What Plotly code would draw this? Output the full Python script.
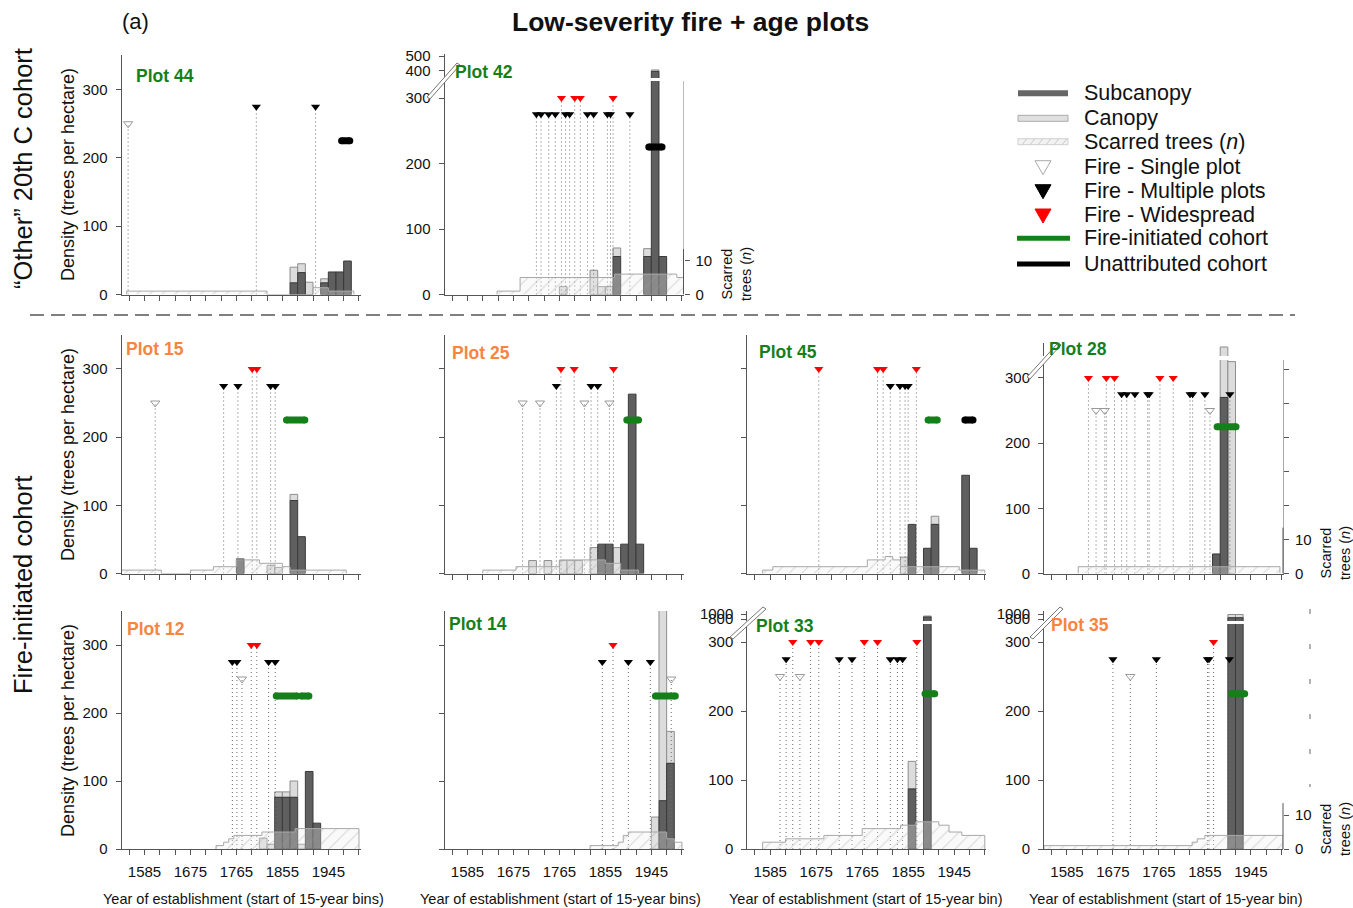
import plotly.graph_objects as go

# ---------------- data ----------------
X_TICKS = [1555, 1585, 1615, 1645, 1675, 1705, 1735, 1765, 1795, 1825, 1855, 1885, 1915, 1945, 1975, 2005]
X_TICK_LABELS = [1585, 1675, 1765, 1855, 1945]
Y_TICKS = [0, 100, 200, 300]
BIN_WIDTH = 15
H_SINGLE, H_MULTI, H_WIDE, H_COHORT = 250, 275, 300, 225

# Plot 44
p44_bins = [1870, 1885, 1900, 1930, 1945, 1960, 1975]
p44_sub = [17, 32, 0, 17, 33, 33, 49]
p44_can = [23, 13, 18, 6, 0, 0, 0]
p44_scar_edges = [1550, 1825, 1915, 1945, 1995]
p44_scar_n = [1, 0, 2, 1]
p44_single = [1553]
p44_multi = [1804, 1920]
p44_wide = []
p44_coh_fire = []
p44_coh_unattr = [(1971, 1987)]

# Plot 42
p42_bins = [1765, 1825, 1840, 1855, 1870, 1930, 1945, 1960]
p42_sub = [0, 0, 0, 0, 58, 58, 395, 58]
p42_can = [12, 37, 12, 12, 13, 12, 10, 0]
p42_scar_edges = [1643, 1688, 1873, 1995, 2008]
p42_scar_n = [1, 5, 6, 5]
p42_single = []
p42_multi = [1720, 1729, 1744, 1757, 1777, 1785, 1820, 1832, 1859, 1865, 1903]
p42_wide = [1769, 1795, 1806, 1870]
p42_coh_fire = []
p42_coh_unattr = [(1940, 1966)]

# Plot 15
p15_bins = [1765, 1825, 1840, 1870, 1885]
p15_sub = [20, 0, 0, 107, 54]
p15_can = [2, 12, 9, 9, 0]
p15_scar_edges = [1540, 1618, 1675, 1720, 1765, 1810, 1855, 1870, 1980]
p15_scar_n = [1, 0, 1, 2, 4, 3, 2, 1]
p15_single = [1606]
p15_multi = [1740, 1768, 1832, 1841]
p15_wide = [1796, 1805]
p15_coh_fire = [(1863, 1899)]
p15_coh_unattr = []

# Plot 25
p25_bins = [1705, 1735, 1765, 1780, 1795, 1825, 1840, 1855, 1870, 1885, 1900, 1915]
p25_sub = [0, 0, 0, 0, 0, 0, 43, 43, 0, 43, 263, 43]
p25_can = [19, 19, 19, 19, 19, 38, 0, 0, 38, 0, 0, 0]
p25_scar_edges = [1615, 1680, 1765, 1855, 1885, 1920]
p25_scar_n = [1, 2, 4, 3, 1]
p25_single = [1693, 1727, 1814, 1863]
p25_multi = [1759, 1827, 1840]
p25_wide = [1768, 1794, 1871]
p25_coh_fire = [(1897, 1920)]
p25_coh_unattr = []

# Plot 45
p45_bins = [1840, 1855, 1885, 1900, 1960, 1975]
p45_sub = [0, 72, 37, 72, 144, 37]
p45_can = [24, 0, 0, 12, 0, 0]
p45_scar_edges = [1570, 1590, 1775, 1810, 1825, 1840, 1955, 2005]
p45_scar_n = [1, 2, 4, 5, 4, 2, 1]
p45_single = []
p45_multi = [1820, 1839, 1849, 1855]
p45_wide = [1680, 1795, 1806, 1871]
p45_coh_fire = [(1894, 1912)]
p45_coh_unattr = [(1966, 1982)]

# Plot 28
p28_bins = [1870, 1885, 1900]
p28_sub = [30, 270, 0]
p28_can = [0, 105, 325]
p28_scar_edges = [1607, 2002]
p28_scar_n = [2]
p28_single = [1642, 1659, 1865]
p28_multi = [1692, 1702, 1718, 1743, 1746, 1826, 1831, 1855, 1904]
p28_wide = [1627, 1662, 1678, 1767, 1793]
p28_coh_fire = [(1879, 1916)]
p28_coh_unattr = []

# Plot 12
p12_bins = [1810, 1825, 1840, 1855, 1870, 1885, 1900, 1915]
p12_sub = [0, 0, 76, 76, 76, 0, 114, 38]
p12_can = [16, 7, 8, 8, 24, 7, 0, 0]
p12_scar_edges = [1725, 1740, 1750, 1760, 1815, 1880, 2005]
p12_scar_n = [1, 2, 3, 4, 5, 6]
p12_single = [1776]
p12_multi = [1757, 1766, 1828, 1841]
p12_wide = [1794, 1805]
p12_coh_fire = [(1843, 1884), (1892, 1907)]
p12_coh_unattr = []

# Plot 14
p14_bins = [1945, 1960, 1975]
p14_sub = [0, 71, 126]
p14_can = [47, 300, 47]
p14_scar_edges = [1825, 1880, 1890, 1900, 1975, 1990, 2005]
p14_scar_n = [1, 2, 4, 5, 3, 2]
p14_single = [1984]
p14_multi = [1849, 1900, 1943]
p14_wide = [1870]
p14_coh_fire = [(1953, 1992)]
p14_coh_unattr = []

# Plot 33
p33_bins = [1855, 1885]
p33_sub = [87, 880]
p33_can = [40, 40]
p33_scar_edges = [1570, 1615, 1690, 1765, 1840, 1870, 1915, 1935, 1960, 2005]
p33_scar_n = [2, 3, 4, 6, 7, 8, 7, 5, 4]
p33_single = [1604, 1643]
p33_multi = [1616, 1720, 1745, 1820, 1834, 1844]
p33_wide = [1629, 1664, 1680, 1769, 1795, 1872]
p33_coh_fire = [(1888, 1907)]
p33_coh_unattr = []

# Plot 35
p35_bins = [1900, 1915]
p35_sub = [850, 850]
p35_can = [130, 130]
p35_scar_edges = [1540, 1830, 1840, 1855, 2008]
p35_scar_n = [1, 2, 3, 4]
p35_single = [1709]
p35_multi = [1675, 1760, 1860, 1863, 1903]
p35_wide = [1872]
p35_coh_fire = [(1907, 1933)]
p35_coh_unattr = []

LEGEND_LABELS = ["Subcanopy", "Canopy", "Scarred trees (<i>n</i>)", "Fire - Single plot",
                 "Fire - Multiple plots", "Fire - Widespread", "Fire-initiated cohort", "Unattributed cohort"]

# ---------------- styling / layout ----------------
GREEN = "#15801a"
ORANGE = "#f7843f"
SUB_COLOR = "#5f5f5f"
SUB_LINE = "#3a3a3a"
CAN_COLOR = "#dcdcdc"
CAN_LINE = "#8e8e8e"
AXIS_COLOR = "#555555"
FONT = "Arial, Liberation Sans, sans-serif"

W, H = 1353, 908


def px(x):
    return x / W


def py(y):
    return 1 - y / H


COL_X = [121.5, 444.5, 747.3, 1044]
PANEL_W = 239
ZERO_Y = [294.5, 573.5, 849]
X_RANGE = [1540, 2008]
SCAR_PPT = 3.4  # pixels per scarred tree


def P(name, color, col, row, ppu, top, bins, sub, can, se, sn, single, multi, wide, cf, cu,
      label_xy, ylabels=True, upper=None, upper_ticks=(), right=None, scar_title=None):
    return dict(name=name, color=color, col=col, row=row, ppu=ppu, top=top, bins=bins, sub=sub,
                can=can, scar_edges=se, scar_n=sn, single=single, multi=multi, wide=wide,
                coh_fire=cf, coh_unattr=cu, label_xy=label_xy, ylabels=ylabels, upper=upper,
                upper_ticks=list(upper_ticks), right=right, scar_title=scar_title)


PANELS = [
    P("Plot 44", GREEN, 0, 0, 0.683, 55, p44_bins, p44_sub, p44_can, p44_scar_edges, p44_scar_n,
      p44_single, p44_multi, p44_wide, p44_coh_fire, p44_coh_unattr, (134, 76)),
    P("Plot 42", GREEN, 1, 0, 0.655, 81, p42_bins, p42_sub, p42_can, p42_scar_edges, p42_scar_n,
      p42_single, p42_multi, p42_wide, p42_coh_fire, p42_coh_unattr, (453, 72),
      upper=(54, 78, 350, 514), upper_ticks=(400, 500), right="short_gray", scar_title=(736, 274)),
    P("Plot 15", ORANGE, 0, 1, 0.682, 335, p15_bins, p15_sub, p15_can, p15_scar_edges, p15_scar_n,
      p15_single, p15_multi, p15_wide, p15_coh_fire, p15_coh_unattr, (124, 349)),
    P("Plot 25", ORANGE, 1, 1, 0.682, 335, p25_bins, p25_sub, p25_can, p25_scar_edges, p25_scar_n,
      p25_single, p25_multi, p25_wide, p25_coh_fire, p25_coh_unattr, (450, 353), ylabels=False),
    P("Plot 45", GREEN, 2, 1, 0.682, 335, p45_bins, p45_sub, p45_can, p45_scar_edges, p45_scar_n,
      p45_single, p45_multi, p45_wide, p45_coh_fire, p45_coh_unattr, (757, 352), ylabels=False),
    P("Plot 28", GREEN, 3, 1, 0.652, 360, p28_bins, p28_sub, p28_can, p28_scar_edges, p28_scar_n,
      p28_single, p28_multi, p28_wide, p28_coh_fire, p28_coh_unattr, (1047, 349),
      upper=(343, 356, 330, 395), right="full", scar_title=(1335, 553)),
    P("Plot 12", ORANGE, 0, 2, 0.68, 611, p12_bins, p12_sub, p12_can, p12_scar_edges, p12_scar_n,
      p12_single, p12_multi, p12_wide, p12_coh_fire, p12_coh_unattr, (125, 629)),
    P("Plot 14", GREEN, 1, 2, 0.68, 611, p14_bins, p14_sub, p14_can, p14_scar_edges, p14_scar_n,
      p14_single, p14_multi, p14_wide, p14_coh_fire, p14_coh_unattr, (447, 624), ylabels=False),
    P("Plot 33", GREEN, 2, 2, 0.69, 624, p33_bins, p33_sub, p33_can, p33_scar_edges, p33_scar_n,
      p33_single, p33_multi, p33_wide, p33_coh_fire, p33_coh_unattr, (754, 626),
      upper=(611, 621, 720, 1120), upper_ticks=(800, 1000)),
    P("Plot 35", ORANGE, 3, 2, 0.69, 624, p35_bins, p35_sub, p35_can, p35_scar_edges, p35_scar_n,
      p35_single, p35_multi, p35_wide, p35_coh_fire, p35_coh_unattr, (1049, 625),
      upper=(611, 621, 720, 1120), upper_ticks=(800, 1000), right="short", scar_title=(1335, 829)),
]

BREAKS = [  # (x1, y1, x2, y2) of the axis-break double slash
    (427, 97, 457, 63),
    (1027, 377, 1058, 343),
    (730, 637, 763, 607),
    (1030, 637, 1060, 607),
]


def xa(i):
    return "x" if i == 1 else f"x{i}"


def xl(i):
    return "xaxis" if i == 1 else f"xaxis{i}"


def ya(i):
    return "y" if i == 1 else f"y{i}"


def yl(i):
    return "yaxis" if i == 1 else f"yaxis{i}"


fig = go.Figure()
layout = {}
shapes = []
annotations = []

tick_font = dict(family=FONT, size=15, color="#111")
DOT = dict(color="#6a6a6a", width=1, dash="1px,3px")
AX_COMMON = dict(automargin=False, showgrid=False, zeroline=False, fixedrange=True, tickfont=tick_font)

yc = 0
for k, p in enumerate(PANELS):
    xi = k + 1
    yc += 1
    ym = yc
    yc += 1
    ys = yc
    yu = None
    if p["upper"]:
        yc += 1
        yu = yc
    ax0 = COL_X[p["col"]]
    zero = ZERO_Y[p["row"]]
    top = p["top"]
    bottom_row = p["row"] == 2

    layout[xl(xi)] = dict(
        domain=[px(ax0), px(ax0 + PANEL_W)], range=X_RANGE, anchor=ya(ym),
        tickmode="array", tickvals=X_TICKS,
        ticktext=[str(t) if (bottom_row and t in X_TICK_LABELS) else "" for t in X_TICKS],
        ticks="outside", ticklen=5, tickcolor=AXIS_COLOR, showline=True, linecolor=AXIS_COLOR,
        linewidth=1, ticklabelstandoff=4, **AX_COMMON,
    )
    layout[yl(ym)] = dict(
        domain=[py(zero), py(top)], range=[0, (zero - top) / p["ppu"]], anchor=xa(xi),
        tickmode="array", tickvals=Y_TICKS,
        ticktext=[str(t) if p["ylabels"] else "" for t in Y_TICKS],
        ticks="outside", ticklen=5, tickcolor=AXIS_COLOR, showline=True, linecolor=AXIS_COLOR,
        linewidth=1, ticklabelstandoff=5, **AX_COMMON,
    )
    scar_top = (zero - top) / SCAR_PPT
    sax = dict(overlaying=ya(ym), anchor=xa(xi), side="right", range=[0, scar_top], **AX_COMMON)
    if p["right"] is None:
        sax.update(visible=False)
    else:
        if p["right"] == "full":
            tv = [0, 10, 20, 30, 40, 50, 60]
            sax.update(showline=True, linecolor="#aaaaaa")
        else:
            tv = [0, 10]
            sax.update(showline=False)
        sax.update(tickmode="array", tickvals=tv, ticktext=[str(t) if t <= 10 else "" for t in tv],
                   ticks="outside", ticklen=5, tickcolor=AXIS_COLOR, ticklabelstandoff=3)
        shapes.append(dict(type="line", xref=f"{xa(xi)} domain", yref=ya(ys), x0=1, x1=1,
                           y0=0, y1=13.5, line=dict(color=AXIS_COLOR, width=1)))
        if p["right"] == "short_gray":
            shapes.append(dict(type="line", xref=f"{xa(xi)} domain", yref=ya(ys), x0=1, x1=1,
                               y0=13.5, y1=scar_top, line=dict(color="#bbbbbb", width=1)))
    layout[yl(ys)] = sax

    if yu:
        ub, ut, ulo, uhi = p["upper"][1], p["upper"][0], p["upper"][2], p["upper"][3]
        layout[yl(yu)] = dict(
            domain=[py(ub), py(ut)], range=[ulo, uhi], anchor=xa(xi),
            tickmode="array", tickvals=p["upper_ticks"], ticktext=[str(t) for t in p["upper_ticks"]],
            ticks="outside", ticklen=5, tickcolor=AXIS_COLOR, showline=True, linecolor=AXIS_COLOR,
            linewidth=1, ticklabelstandoff=5, **AX_COMMON,
        )

    # ---- bars (canopy stacked on subcanopy) ----
    centers = [b + BIN_WIDTH / 2 for b in p["bins"]]
    can_idx = [i for i, c in enumerate(p["can"]) if c > 0]
    sub_idx = [i for i, s in enumerate(p["sub"]) if s > 0]
    for yy in [ym] + ([yu] if yu else []):
        fig.add_trace(go.Bar(
            x=[centers[i] for i in can_idx], y=[p["can"][i] for i in can_idx],
            base=[p["sub"][i] for i in can_idx], width=BIN_WIDTH,
            marker=dict(color=CAN_COLOR, line=dict(color=CAN_LINE, width=1)),
            xaxis=xa(xi), yaxis=ya(yy), showlegend=False, hoverinfo="skip"))
        fig.add_trace(go.Bar(
            x=[centers[i] for i in sub_idx], y=[p["sub"][i] for i in sub_idx], width=BIN_WIDTH,
            marker=dict(color=SUB_COLOR, line=dict(color=SUB_LINE, width=1)),
            xaxis=xa(xi), yaxis=ya(yy), showlegend=False, hoverinfo="skip"))

    # ---- fire dotted lines ----
    lx, ly = [], []
    for yrs, h in ((p["single"], H_SINGLE), (p["multi"], H_MULTI), (p["wide"], H_WIDE)):
        for yr in yrs:
            lx += [yr, yr, None]
            ly += [0, h, None]
    fig.add_trace(go.Scatter(x=lx, y=ly, mode="lines", line=DOT,
                             xaxis=xa(xi), yaxis=ya(ym), showlegend=False, hoverinfo="skip"))
    fig.add_trace(go.Scatter(x=p["single"], y=[H_SINGLE] * len(p["single"]), mode="markers",
                             marker=dict(symbol="triangle-down-open", size=8, color="#999999",
                                         line=dict(width=1)),
                             xaxis=xa(xi), yaxis=ya(ym), showlegend=False, hoverinfo="skip"))
    fig.add_trace(go.Scatter(x=p["multi"], y=[H_MULTI] * len(p["multi"]), mode="markers",
                             marker=dict(symbol="triangle-down", size=8, color="black"),
                             xaxis=xa(xi), yaxis=ya(ym), showlegend=False, hoverinfo="skip"))
    fig.add_trace(go.Scatter(x=p["wide"], y=[H_WIDE] * len(p["wide"]), mode="markers",
                             marker=dict(symbol="triangle-down", size=8, color="red"),
                             xaxis=xa(xi), yaxis=ya(ym), showlegend=False, hoverinfo="skip"))

    # ---- cohort lines ----
    for segs, col in ((p["coh_fire"], GREEN), (p["coh_unattr"], "black")):
        cx, cy = [], []
        for a, b in segs:
            cx += [a, b, None]
            cy += [H_COHORT, H_COHORT, None]
        if cx:
            fig.add_trace(go.Scatter(x=cx, y=cy, mode="lines+markers",
                                     line=dict(color=col, width=7),
                                     marker=dict(color=col, size=7, symbol="circle"),
                                     xaxis=xa(xi), yaxis=ya(ym), showlegend=False, hoverinfo="skip"))

    # ---- scarred trees (step, hatched) ----
    e, n = p["scar_edges"], p["scar_n"]
    sx = [e[0]] + e[:-1] + [e[-1], e[-1]]
    sy = [0] + n + [n[-1], 0]
    fig.add_trace(go.Scatter(
        x=sx, y=sy, mode="lines", line=dict(color="#a8a8a8", width=1, shape="hv"),
        fill="tozeroy", fillcolor="rgba(235,235,235,0.35)",
        fillpattern=dict(shape="/", size=9, solidity=0.12, fgcolor="rgba(150,150,150,0.7)",
                         bgcolor="rgba(240,240,240,0.3)"),
        xaxis=xa(xi), yaxis=ya(ys), showlegend=False, hoverinfo="skip"))

    # ---- labels ----
    lx0, ly0 = p["label_xy"]
    annotations.append(dict(text=f"<b>{p['name']}</b>", x=px(lx0), y=py(ly0),
                            xanchor="left", yanchor="middle",
                            font=dict(family=FONT, size=17.5, color=p["color"])))
    if p["scar_title"]:
        sxp, syp = p["scar_title"]
        annotations.append(dict(text="Scarred<br>trees (<i>n</i>)", x=px(sxp), y=py(syp),
                                textangle=-90, align="center",
                                font=dict(family=FONT, size=14.5, color="#111")))

# axis-break marks
for (x1, y1, x2, y2) in BREAKS:
    path = (f"M {px(x1)} {py(y1)} L {px(x2)} {py(y2)} L {px(x2 + 3)} {py(y2 + 2)} "
            f"L {px(x1 + 3)} {py(y1 + 2)} Z")
    shapes.append(dict(type="path", xref="paper", yref="paper", path=path,
                       fillcolor="white", line=dict(color="#777777", width=1)))

# separator between the two groups
shapes.append(dict(type="line", xref="paper", yref="paper", x0=px(30), x1=px(1295), y0=py(315), y1=py(315),
                   line=dict(color="black", width=1.2, dash="14px,7px")))
# faint dashed marks at the far right of the lower-right panel
shapes.append(dict(type="line", xref="paper", yref="paper", x0=px(1310), x1=px(1310), y0=py(609), y1=py(787),
                   line=dict(color="#666666", width=1, dash="5px,30px")))

# ---- legend (drawn as keys + labels) ----
LEG_Y = [93.3, 118.3, 141.7, 166.7, 190.7, 215, 238.3, 264]
LX0, LX1, LXC, LXT = 1018, 1068, 1043, 1082
shapes.append(dict(type="rect", xref="paper", yref="paper", x0=px(LX0), x1=px(LX1),
                   y0=py(LEG_Y[0] - 3), y1=py(LEG_Y[0] + 3), fillcolor="#666666", line=dict(width=0)))
shapes.append(dict(type="rect", xref="paper", yref="paper", x0=px(LX0), x1=px(LX1),
                   y0=py(LEG_Y[1] - 3), y1=py(LEG_Y[1] + 3), fillcolor="#e0e0e0",
                   line=dict(color="#aaaaaa", width=1)))
shapes.append(dict(type="rect", xref="paper", yref="paper", x0=px(LX0), x1=px(LX1),
                   y0=py(LEG_Y[2] - 3), y1=py(LEG_Y[2] + 3), fillcolor="#f2f2f2",
                   line=dict(color="#d0d0d0", width=1)))
for i in range(6):
    xs = LX0 + 4 + i * 8
    shapes.append(dict(type="line", xref="paper", yref="paper", x0=px(xs), x1=px(xs + 5),
                       y0=py(LEG_Y[2] + 3), y1=py(LEG_Y[2] - 3), line=dict(color="#c8c8c8", width=1)))
for row, fill, edge in ((3, "white", "#aaaaaa"), (4, "black", "black"), (5, "red", "red")):
    cy = LEG_Y[row]
    path = (f"M {px(LXC - 8)} {py(cy - 6)} L {px(LXC + 8)} {py(cy - 6)} L {px(LXC)} {py(cy + 8)} Z")
    shapes.append(dict(type="path", xref="paper", yref="paper", path=path, fillcolor=fill,
                       line=dict(color=edge, width=1)))
for row, col in ((6, GREEN), (7, "black")):
    shapes.append(dict(type="line", xref="paper", yref="paper", x0=px(LX0 - 1), x1=px(LX1 + 2),
                       y0=py(LEG_Y[row]), y1=py(LEG_Y[row]), line=dict(color=col, width=5)))
for lab, yy in zip(LEGEND_LABELS, LEG_Y):
    annotations.append(dict(text=lab, x=px(LXT), y=py(yy), xanchor="left", yanchor="middle",
                            font=dict(family=FONT, size=21.5, color="#111")))

# titles and group labels
annotations += [
    dict(text="(a)", x=px(120), y=py(22), xanchor="left", yanchor="middle",
         font=dict(family=FONT, size=22, color="#111")),
    dict(text="<b>Low-severity fire + age plots</b>", x=px(690), y=py(22),
         font=dict(family=FONT, size=26.5, color="#111")),
    dict(text="\u201cOther\u201d 20th C cohort", x=px(23), y=py(169), textangle=-90,
         font=dict(family=FONT, size=25.5, color="#111")),
    dict(text="Fire-initiated cohort", x=px(23), y=py(585), textangle=-90,
         font=dict(family=FONT, size=25.5, color="#111")),
]
for yy in (175, 455, 731):
    annotations.append(dict(text="Density (trees per hectare)", x=px(68), y=py(yy), textangle=-90,
                            font=dict(family=FONT, size=18, color="#111")))
for xx, txt in ((243, "Year of establishment (start of 15-year bins)"),
                (560, "Year of establishment (start of 15-year bins)"),
                (866, "Year of establishment (start of 15-year bin)"),
                (1166, "Year of establishment (start of 15-year bin)")):
    annotations.append(dict(text=txt, x=px(xx), y=py(899), font=dict(family=FONT, size=14.5, color="#111")))
for a in annotations:
    a.setdefault("xref", "paper")
    a.setdefault("yref", "paper")
    a.setdefault("showarrow", False)
    a.setdefault("xanchor", "center")
    a.setdefault("yanchor", "middle")

fig.update_layout(
    width=W, height=H, margin=dict(l=0, r=0, t=0, b=0, pad=0, autoexpand=False),
    paper_bgcolor="white", plot_bgcolor="rgba(0,0,0,0)",
    barmode="overlay", showlegend=False,
    shapes=shapes, annotations=annotations, font=dict(family=FONT),
    **layout,
)

POST = ("document.body.style.margin='0';document.body.style.overflow='hidden';"
        "var d=document.getElementById('{plot_id}');d.style.position='absolute';"
        "d.style.left='0px';d.style.top='0px';")
fig.write_html("out.html", post_script=POST, config={"displayModeBar": False, "staticPlot": True})
